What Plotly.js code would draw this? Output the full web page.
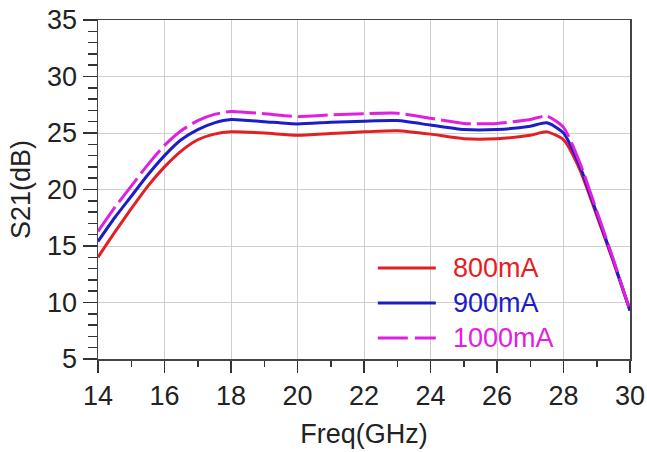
<!DOCTYPE html>
<html>
<head>
<meta charset="utf-8">
<script src="https://cdn.plot.ly/plotly-3.0.1.min.js"></script>
<style>html,body{margin:0;padding:0;background:#fff;}#chart{width:647px;height:452px;}</style>
</head>
<body>
<div id="chart"></div>
<script>
var freq = [14,14.5,15,15.5,16,16.5,17,17.5,18,19,20,21,22,23,24,25,26,27,27.5,28,28.5,29,29.5,30];
var s21_800 = [14.0,16.2,18.3,20.3,22.0,23.4,24.4,24.9,25.1,25.0,24.8,24.95,25.1,25.2,24.9,24.5,24.5,24.8,25.1,24.4,21.7,17.7,13.6,9.3];
var s21_900 = [15.4,17.5,19.4,21.3,23.0,24.4,25.3,25.9,26.2,26.0,25.8,25.95,26.05,26.1,25.7,25.3,25.3,25.6,25.9,25.0,22.0,17.9,13.7,9.3];
var s21_1000 = [16.3,18.4,20.3,22.2,23.9,25.2,26.1,26.65,26.9,26.7,26.45,26.6,26.7,26.75,26.3,25.85,25.85,26.2,26.5,25.5,22.3,18.1,13.8,9.3];
var seriesNames = ["800mA","900mA","1000mA"];
var xTicks = [14,16,18,20,22,24,26,28,30];
var yTicks = [5,10,15,20,25,30,35];

var colors = ["#e31e24","#1c1cc8","#e020e0"];
var dashes = ["solid","solid","30px,6px"];
var ys = [s21_800, s21_900, s21_1000];

var traces = ys.map(function(y,i){
  return {x: freq, y: y, type: "scatter", mode: "lines", name: seriesNames[i],
    line: {color: colors[i], width: 3, dash: dashes[i], shape: "spline", smoothing: 0.6},
    showlegend: false};
});

var font = "Liberation Sans, Arial, sans-serif";
var fs = 27;
var legY = [0.2684, 0.1652, 0.0619];
var shapes = [], annotations = [];
seriesNames.forEach(function(n,i){
  shapes.push({type:"line", xref:"paper", yref:"paper", x0:0.526, x1:0.635, y0:legY[i], y1:legY[i],
    line:{color:colors[i], width:3, dash: i===2 ? "30px,7px" : "solid"}});
  annotations.push({xref:"paper", yref:"paper", x:0.664, y:legY[i], xanchor:"left", yanchor:"middle",
    text:n, showarrow:false, font:{family:font, size:fs, color:colors[i]}});
});

var layout = {
  width: 647, height: 452,
  margin: {l: 98, r: 17, t: 20, b: 93},
  paper_bgcolor: "#fff", plot_bgcolor: "#fff",
  font: {family: font, color: "#222"},
  xaxis: {range: [14,30], tickvals: xTicks, ticks: "outside", ticklen: 12, tickwidth: 1.5, tickcolor: "#333",
    minor: {dtick: 1, ticks: "outside", ticklen: 6, tickwidth: 1.5, tickcolor: "#333", showgrid: false},
    showgrid: true, gridcolor: "#cfcfcf", gridwidth: 1,
    showline: true, linecolor: "#444", linewidth: 1.5, mirror: true, zeroline: false,
    tickfont: {family: font, size: fs, color: "#222"},
    title: {text: "Freq(GHz)", font: {family: font, size: fs, color: "#222"}, standoff: 14}},
  yaxis: {range: [5,35], tickvals: yTicks, ticks: "outside", ticklen: 14, tickwidth: 1.5, tickcolor: "#333",
    minor: {dtick: 1, ticks: "outside", ticklen: 9, tickwidth: 1.5, tickcolor: "#333", showgrid: false},
    showgrid: true, gridcolor: "#cfcfcf", gridwidth: 1,
    showline: true, linecolor: "#444", linewidth: 1.5, mirror: true, zeroline: false,
    tickfont: {family: font, size: fs, color: "#222"},
    title: {text: "S21(dB)", font: {family: font, size: fs, color: "#222"}, standoff: 8}},
  shapes: shapes,
  annotations: annotations,
  showlegend: false
};

Plotly.newPlot("chart", traces, layout, {displayModeBar: false, staticPlot: true});
</script>
</body>
</html>
